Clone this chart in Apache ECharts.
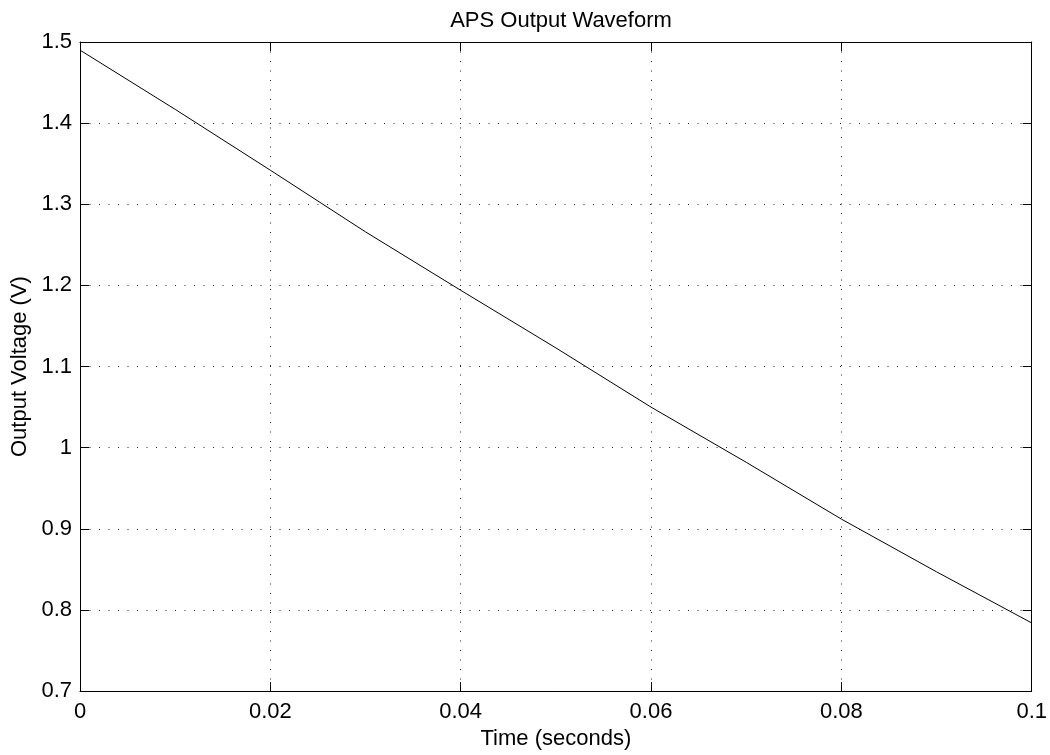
<!DOCTYPE html>
<html>
<head>
<meta charset="utf-8">
<script src="https://cdn.jsdelivr.net/npm/echarts@6/dist/echarts.min.js"></script>
<style>
  html, body { margin: 0; padding: 0; background: #fff; }
  #chart { width: 1050px; height: 755px; }
</style>
</head>
<body>
<div id="chart"></div>
<script>
// values
const timeValues = [0, 0.01, 0.02, 0.03, 0.04, 0.05, 0.06, 0.07, 0.08, 0.09, 0.1];
const voltageValues = [1.490, 1.417, 1.342, 1.266, 1.194, 1.123, 1.050, 0.982, 0.912, 0.847, 0.784];

const xMin = 0, xMax = 0.1, xStep = 0.02;
const yMin = 0.7, yMax = 1.5, yStep = 0.1;

const font = "Liberation Sans, Arial, Helvetica, sans-serif";
const fontSize = 22;

const chart = echarts.init(document.getElementById("chart"));

const boxLine = { show: true, onZero: false, lineStyle: { color: "#000", width: 1 } };
const inTick = { show: true, inside: true, length: 9, lineStyle: { color: "#000", width: 1 } };
const dotted = { show: true, lineStyle: { color: "#222", width: 1, type: [1, 8.5] } };
const label = { fontFamily: font, fontSize: fontSize, color: "#000" };

chart.setOption({
  animation: false,
  backgroundColor: "#fff",
  title: {
    text: "APS Output Waveform",
    left: 556,
    textAlign: "center",
    top: 5,
    textStyle: { ...label, fontWeight: "normal" },
  },
  grid: { left: 80, right: 18, top: 42, bottom: 56 },
  xAxis: [
    {
      type: "value",
      min: xMin,
      max: xMax,
      interval: xStep,
      name: "Time (seconds)",
      nameLocation: "middle",
      nameGap: 31,
      nameTextStyle: label,
      axisLine: boxLine,
      axisTick: inTick,
      axisLabel: { ...label, margin: 10 },
      splitLine: dotted,
    },
    {
      type: "value",
      position: "top",
      min: xMin,
      max: xMax,
      interval: xStep,
      axisLine: boxLine,
      axisTick: inTick,
      axisLabel: { show: false },
      splitLine: { show: false },
    },
  ],
  yAxis: [
    {
      type: "value",
      min: yMin,
      max: yMax,
      interval: yStep,
      name: "Output Voltage (V)",
      nameLocation: "middle",
      nameGap: 47,
      nameTextStyle: label,
      axisLine: boxLine,
      axisTick: inTick,
      axisLabel: { ...label, margin: 8 },
      splitLine: dotted,
    },
    {
      type: "value",
      position: "right",
      min: yMin,
      max: yMax,
      interval: yStep,
      axisLine: boxLine,
      axisTick: inTick,
      axisLabel: { show: false },
      splitLine: { show: false },
    },
  ],
  series: [
    {
      type: "line",
      data: timeValues.map((t, i) => [t, voltageValues[i]]),
      showSymbol: false,
      lineStyle: { color: "#000", width: 1 },
      silent: true,
    },
  ],
});
</script>
</body>
</html>
